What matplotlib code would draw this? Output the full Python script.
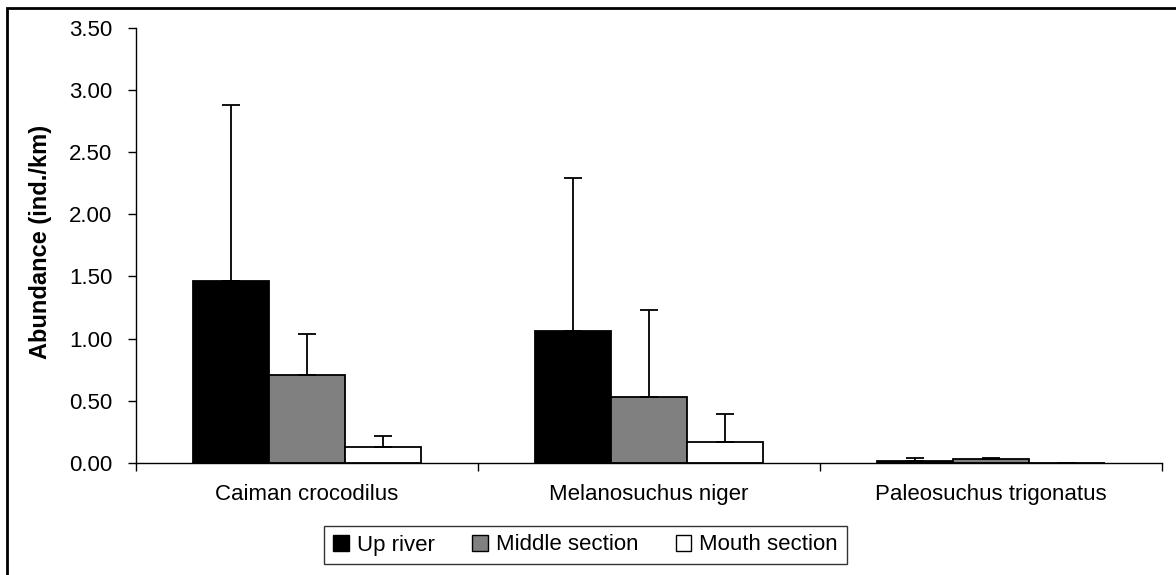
import matplotlib
matplotlib.use("Agg")
import matplotlib.pyplot as plt
import matplotlib.patches as mpatches
import numpy as np

plt.rcParams["font.family"] = ["Liberation Sans", "DejaVu Sans"]

SPECIES = ["Caiman crocodilus", "Melanosuchus niger", "Paleosuchus trigonatus"]
SERIES = ["Up river", "Middle section", "Mouth section"]
COLORS = ["#000000", "#808080", "#ffffff"]

# mean abundance (ind./km) per species, one list per section
UP_RIVER = [1.46, 1.06, 0.02]
MIDDLE = [0.71, 0.53, 0.03]
MOUTH = [0.13, 0.17, 0.003]

# upper error (SD) per species
UP_RIVER_ERR = [1.42, 1.23, 0.02]
MIDDLE_ERR = [0.33, 0.70, 0.01]
MOUTH_ERR = [0.09, 0.22, 0.0]

YTICKS = [0.0, 0.5, 1.0, 1.5, 2.0, 2.5, 3.0, 3.5]

FS = 16

fig = plt.figure(figsize=(11.76, 5.75), dpi=100)
ax = fig.add_axes([136 / 1176, 1 - 463 / 575, (1162 - 136) / 1176, (463 - 27.5) / 575])

x = np.arange(len(SPECIES))
width = 0.222
offsets = [-width, 0, width]
means = [UP_RIVER, MIDDLE, MOUTH]
errs = [UP_RIVER_ERR, MIDDLE_ERR, MOUTH_ERR]

for vals, err, off, col in zip(means, errs, offsets, COLORS):
    ax.bar(x + off, vals, width, color=col, edgecolor="black", linewidth=1.3, zorder=2)
    ax.errorbar(x + off, vals, yerr=[np.zeros(len(vals)), err], fmt="none",
                ecolor="black", elinewidth=1.3, capsize=6.5, capthick=1.3, zorder=3)

ax.set_xlim(-0.5, 2.5)
ax.set_ylim(0, 3.5)
ax.set_yticks(YTICKS)
ax.set_yticklabels([f"{v:.2f}" for v in YTICKS], fontsize=FS)
ax.set_xticks([-0.5, 0.5, 1.5, 2.5])
ax.set_xticklabels([])
ax.set_xticks(x, minor=True)
ax.set_xticklabels(SPECIES, minor=True, fontsize=FS)
ax.tick_params(axis="x", which="major", direction="out", length=6, width=1)
ax.tick_params(axis="x", which="minor", length=0, pad=15)
ax.tick_params(axis="y", direction="out", length=6, width=1, pad=11)
ax.spines["top"].set_visible(False)
ax.spines["right"].set_visible(False)
ax.spines["left"].set_linewidth(1)
ax.spines["bottom"].set_linewidth(1)

fig.text(41 / 1176, 1 - 242 / 575, "Abundance (ind./km)", rotation=90,
         ha="center", va="center", fontsize=17, fontweight="bold")

handles = [mpatches.Patch(facecolor=c, edgecolor="black", linewidth=1, label=s)
           for s, c in zip(SERIES, COLORS)]
leg = fig.legend(handles=handles, loc="center", bbox_to_anchor=(585.5 / 1176, 1 - 545 / 575),
                 ncol=3, fontsize=FS, frameon=True, fancybox=False, handlelength=0.7,
                 handleheight=0.7, handletextpad=0.35, columnspacing=1.7, borderpad=0.4)
leg.get_frame().set_edgecolor("black")
leg.get_frame().set_linewidth(1)

# outer chart-area border (runs off the right and bottom edge)
fig.patches.append(mpatches.Rectangle((7 / 1176, -0.1), 1.2, 1 - 8 / 575 + 0.1,
                                      transform=fig.transFigure, fill=False,
                                      edgecolor="black", linewidth=2))

fig.savefig("out.png", dpi=100)
